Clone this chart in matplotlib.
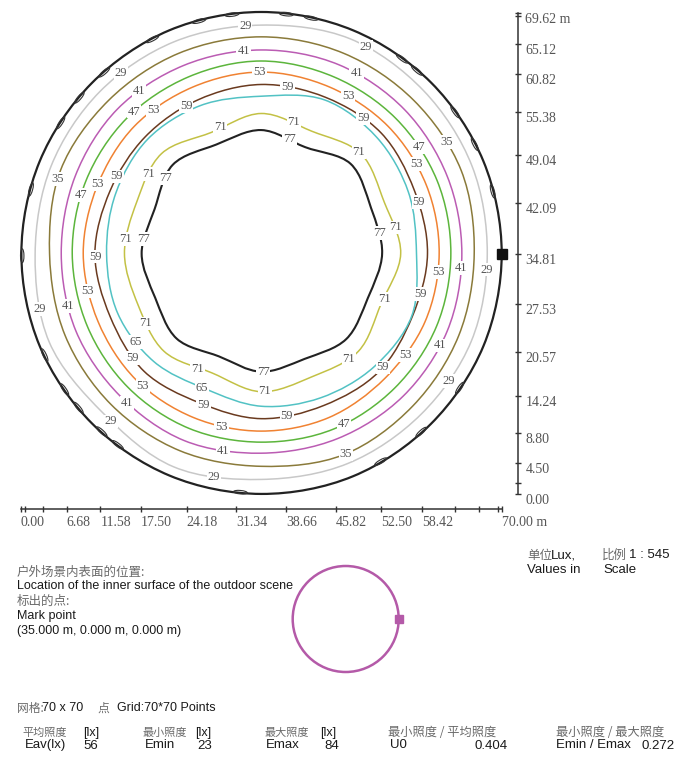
import numpy as np
import matplotlib.pyplot as plt
from matplotlib.path import Path
from matplotlib.patches import PathPatch, Ellipse, Circle
from matplotlib.ticker import FixedLocator

# ---- data (metres) ----
center = (35.0, 34.81)
angles = np.arange(16) * 22.5          # deg, counter-clockwise from east

levels = [29, 35, 41, 47, 53, 59, 65, 71, 77]
r29 = [32.9, 33.2, 33.4, 33.7, 33.1, 33.2, 33.2, 33.1, 32.9, 33.4, 32.6, 33.4, 32.7, 32.9, 32.9, 33.1]
r35 = [31.0, 31.5, 31.4, 31.4, 31.4, 31.4, 31.4, 31.6, 30.8, 30.9, 30.9, 30.9, 30.8, 31.5, 31.2, 31.1]
r41 = [29.2, 29.3, 29.5, 29.6, 29.5, 29.5, 29.6, 29.3, 29.1, 29.2, 29.1, 29.3, 28.9, 29.0, 29.2, 29.3]
r47 = [27.6, 27.7, 27.7, 27.7, 27.9, 27.7, 27.7, 27.6, 27.5, 27.4, 27.4, 27.4, 27.3, 27.5, 27.5, 27.6]
r53 = [25.9, 26.0, 26.1, 26.1, 26.3, 26.1, 26.1, 25.8, 25.9, 25.7, 25.8, 25.7, 25.7, 25.7, 25.5, 25.8]
r59 = [24.2, 24.1, 24.7, 24.5, 24.5, 24.1, 23.9, 23.8, 24.2, 23.8, 24.1, 23.4, 23.9, 23.8, 24.2, 23.8]
r65 = [22.6, 23.2, 23.8, 24.1, 22.8, 23.2, 23.4, 22.9, 22.5, 22.6, 22.1, 21.2, 22.1, 22.6, 23.2, 23.7]
r71 = [20.3, 19.4, 20.5, 19.2, 20.3, 19.0, 20.5, 19.6, 19.9, 19.4, 20.0, 18.7, 20.0, 19.3, 20.0, 18.9]
r77 = [17.6, 17.3, 18.4, 16.7, 17.9, 17.1, 18.2, 16.8, 17.4, 16.7, 17.4, 16.1, 17.1, 16.5, 17.5, 16.8]
r_bound = [35.0, 35.0, 35.0, 35.0, 35.0, 35.0, 34.9, 34.9, 34.9, 34.9, 34.8, 34.8, 34.8, 34.9, 34.9, 35.0]
radii = [r29, r35, r41, r47, r53, r59, r65, r71, r77]
colors = ['#c8c8c8', '#8a7a3a', '#bb5cb3', '#5cb53c', '#f08232', '#6a3a1f', '#52c2c4', '#c3c145', '#222222']
widths = [1.1, 1.1, 1.1, 1.1, 1.1, 1.1, 1.1, 1.1, 1.5]

# where each level carries its value label (deg)
label_angles = {
    29: [94, 128, 63, 194, 228, 258, 356, 326],
    35: [160, 31, 293],
    41: [95, 127, 62, 195, 228, 259, 356, 333],
    47: [132, 162, 34, 296],
    53: [90.5, 127, 157, 61, 30, 192, 228, 257, 354, 325],
    59: [81, 117, 152, 53, 18, 181, 219, 249, 279, 317, 346],
    65: [215, 246],
    71: [76, 108, 46, 11, 340, 310, 271.5, 241, 211, 174, 145],
    77: [76, 142, 173, 10, 271],
}
# small loops along the outer boundary (deg)
loop_angles = [15, 27, 36, 49.5, 54, 78, 84, 97, 105, 117, 131, 139.5, 147, 164.5,
               180.5, 205, 214.5, 220, 228, 233, 265, 300, 312, 326]

x_ticks = [0.00, 6.68, 11.58, 17.50, 24.18, 31.34, 38.66, 45.82, 52.50, 58.42, 70.00]
y_ticks = [0.00, 4.50, 8.80, 14.24, 20.57, 27.53, 34.81, 42.09, 49.04, 55.38, 60.82, 65.12, 69.62]
x_minor = [0.6, 3.3, 63.2, 66.7, 69.4]
y_minor = [1.55, 69.2]


def closed_curve(r):
    th = np.deg2rad(angles)
    r = np.asarray(r)
    pts = np.column_stack([center[0] + r * np.cos(th), center[1] + r * np.sin(th)])
    n = len(pts)
    verts = [pts[0]]
    codes = [Path.MOVETO]
    for i in range(n):
        p0, p1, p2, p3 = pts[i - 1], pts[i], pts[(i + 1) % n], pts[(i + 2) % n]
        verts += [p1 + (p2 - p0) / 6, p2 - (p3 - p1) / 6, p2]
        codes += [Path.CURVE4] * 3
    return Path(verts, codes)


W, H = 679, 757
fig = plt.figure(figsize=(W / 100, H / 100), dpi=100)


def fx(x):
    return x / W


def fy(y):
    return 1 - y / H


ax = fig.add_axes([20.7 / W, 263 / H, 481 / W, 480.7 / H])
ax.set_xlim(0, 70)
ax.set_ylim(0, 69.62)

# outer boundary
ax.add_patch(PathPatch(closed_curve(r_bound), fill=False, ec='#222222', lw=1.6, clip_on=False))
for a in loop_angles:
    t = np.deg2rad(a)
    rr = np.interp(a, angles, r_bound, period=360) - 0.12
    ax.add_patch(Ellipse((center[0] + rr * np.cos(t), center[1] + rr * np.sin(t)), 2.0, 0.5,
                         angle=a + 90, fill=False, ec='#333333', lw=0.8, clip_on=False))

for lev, r, c, w in zip(levels, radii, colors, widths):
    ax.add_patch(PathPatch(closed_curve(r), fill=False, ec=c, lw=w, clip_on=False))
    for a in label_angles[lev]:
        t = np.deg2rad(a)
        rr = np.interp(a, angles, r, period=360)
        ax.text(center[0] + rr * np.cos(t), center[1] + rr * np.sin(t), str(lev),
                ha='center', va='center', fontsize=9, family='Liberation Serif', color='#555555',
                bbox=dict(fc='white', ec='none', pad=0.6), zorder=5)

ax.plot([70], [center[1]], marker='s', ms=6.5, color='#111111', clip_on=False, zorder=6)

# ruler-style axes
for s in ['top', 'left']:
    ax.spines[s].set_visible(False)
ax.spines['bottom'].set_position(('outward', 10.8))
ax.spines['right'].set_position(('outward', 12))
ax.spines['bottom'].set_bounds(0, 70)
ax.spines['right'].set_bounds(0, 69.62)
for s in ['bottom', 'right']:
    ax.spines[s].set_color('#333333')
    ax.spines[s].set_linewidth(1.1)
ax.yaxis.tick_right()
ax.set_xticks(x_ticks)
ax.set_xticklabels(['%.2f' % v for v in x_ticks[:-1]] + ['%.2f m' % x_ticks[-1]])
ax.set_yticks(y_ticks)
ax.set_yticklabels(['%.2f' % v for v in y_ticks[:-1]] + ['%.2f m' % y_ticks[-1]])
ax.xaxis.set_minor_locator(FixedLocator(x_minor))
ax.yaxis.set_minor_locator(FixedLocator(y_minor))
ax.tick_params(which='both', direction='inout', color='#333333', width=1.0)
ax.tick_params(which='major', length=5, labelsize=10, labelcolor='#555555', pad=2.5)
ax.tick_params(which='minor', length=4)
for lbl in ax.get_xticklabels():
    lbl.set_ha('left')
    lbl.set_family('Liberation Serif')
for lbl in ax.get_yticklabels():
    lbl.set_va('top')
    lbl.set_family('Liberation Serif')

# ---- lower panel ----
cjk = ['Noto Sans CJK SC', 'DejaVu Sans']
gray = '#6a6a6a'
dark = '#1a1a1a'


def ctext(x, y, s, size=9):
    fig.text(fx(x), fy(y), s, family=cjk, fontsize=size, color=gray, va='center')


def etext(x, y, s, size=9):
    fig.text(fx(x), fy(y), s, family='Liberation Sans', fontsize=size, color=dark, va='center')


ctext(527, 555, '单位', 9)
etext(551, 555, 'Lux,', 9.5)
etext(527, 570, 'Values in', 9.5)
ctext(602, 555, '比例', 9)
etext(629, 555, '1 : 545', 9.5)
etext(603, 570, 'Scale', 9.5)

ctext(17, 572, '户外场景内表面的位置:', 9)
etext(17, 586, 'Location of the inner surface of the outdoor scene', 9)
ctext(17, 601, '标出的点:', 9)
etext(17, 616, 'Mark point', 9)
etext(17, 631, '(35.000 m, 0.000 m, 0.000 m)', 9)

ax2 = fig.add_axes([(345.7 - 60) / W, (H - 619 - 60) / H, 120 / W, 120 / H])
ax2.set_xlim(-60, 60)
ax2.set_ylim(-60, 60)
ax2.axis('off')
ax2.add_patch(Circle((0, 0), 53, fill=False, ec='#b45aa8', lw=1.8))
ax2.plot([53], [0], marker='s', ms=6, color='#b45aa8')

ctext(17, 708, '网格:', 8.5)
etext(42, 708, '70 x 70', 9)
ctext(97, 708, '点', 8.5)
etext(117, 708, 'Grid:70*70 Points', 9)

ctext(22, 733, '平均照度', 8)
etext(83, 733, '[lx]', 9)
etext(25, 745, 'Eav(lx)', 9.5)
etext(83, 746, '56', 9.5)
ctext(143, 733, '最小照度', 8)
etext(195, 733, '[lx]', 9)
etext(145, 745, 'Emin', 9.5)
etext(197, 746, '23', 9.5)
ctext(265, 733, '最大照度', 8)
etext(320, 733, '[lx]', 9)
etext(266, 745, 'Emax', 9.5)
etext(324, 746, '84', 9.5)
ctext(388, 733, '最小照度 / 平均照度', 8.8)
etext(390, 745, 'U0', 9.5)
etext(475, 746, '0.404', 9.5)
ctext(556, 733, '最小照度 / 最大照度', 8.8)
etext(556, 745, 'Emin / Emax', 9.5)
etext(641, 746, '0.272', 9.5)

fig.savefig('out.png', dpi=100)
